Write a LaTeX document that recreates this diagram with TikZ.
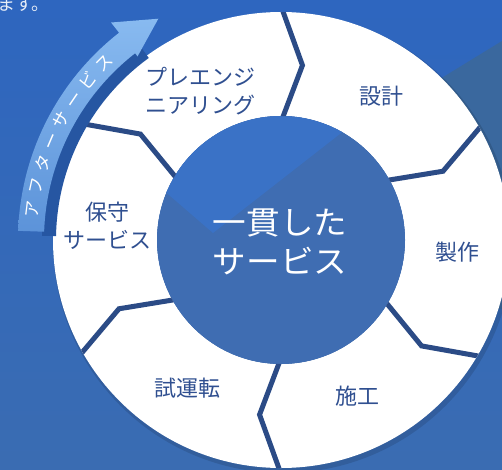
\documentclass[tikz,border=0pt]{standalone}
\usepackage{fontspec}
\newfontfamily\jpfont{Noto Sans CJK JP}
\newfontfamily\jpwide{Noto Sans CJK JP}[FakeStretch=1.05]
\usetikzlibrary{decorations.text}

\definecolor{bgtop}{HTML}{2E66BF}
\definecolor{bgbot}{HTML}{3A6CB2}
\definecolor{bgdark}{HTML}{3A689E}
\definecolor{hublight}{HTML}{3A72C6}
\definecolor{hubdark}{HTML}{3F6DB2}
\definecolor{sepblue}{HTML}{2B4B86}
\definecolor{labelblue}{HTML}{2F4F90}
\definecolor{arrowlo}{HTML}{5C93D9}
\definecolor{arrowhi}{HTML}{88BAF0}
\definecolor{bandblue}{HTML}{2656A2}

\begin{document}
\begin{tikzpicture}[
    x=1pt, y=1pt,
    stagelabel/.style={text=labelblue, align=center, inner sep=0pt,
        font=\jpfont\fontsize{22}{28}\selectfont}, % labels on the ring
    hublabel/.style={text=white, align=center, inner sep=0pt,
        font=\jpwide\fontsize{32}{39}\selectfont},  % text in the middle
    separator/.style={draw=sepblue, line width=5pt, line join=miter}
]

    % --- BACKGROUND ---
    \useasboundingbox (0,0) rectangle (502,469);
    \shade[top color=bgtop, bottom color=bgbot] (0,0) rectangle (502,469);
    \fill[bgdark] (440,390) -- (502,428) -- (502,160) -- (470,160) -- cycle;

    \coordinate (C) at (281,229); % centre of the ring

    % --- RING ---
    \fill[black, opacity=0.12] (283,226) circle[radius=230]; % soft shadow
    \fill[white, even odd rule] (C) circle[radius=228] (C) circle[radius=124];

    % inner disk, two tones
    \fill[hubdark] (C) circle[radius=124];
    \begin{scope}
        \clip (C) circle[radius=124];
        \fill[hublight] (213,236) -- (140,299) -- (140,369) -- (345,369) -- (345,339) -- cycle;
    \end{scope}

    % chevron separators between the stages
    \begin{scope}[even odd rule]
        \clip (C) circle[radius=228] (C) circle[radius=124];
        \begin{scope}[shift={(C)}]
            \foreach \a/\b in {90/83, 30/23, -30/-37, -90/-97, -150/-157, 150/143}
                \draw[separator] (\a:118) -- (\b:176) -- (\a:234);
        \end{scope}
    \end{scope}

    % --- AFTER-SERVICE ARROW ---
    \begin{scope}[shift={(C)}]
        \fill[bandblue] (179:225) arc[start angle=179, end angle=126, radius=225]
            -- (126:239) arc[start angle=126, end angle=179, radius=239] -- cycle;
        \shade[bottom color=arrowlo, top color=arrowhi]
            (178:263) arc[start angle=178, end angle=128, radius=263]
            -- (128:276) -- (119:253) -- (128:233) -- (128:237)
            arc[start angle=128, end angle=178, radius=237] -- cycle;
        \path[decorate, decoration={text along path, text align=fit to path,
                text color=white,
                text={|\jpfont\fontsize{17}{17}\selectfont|アフターサービス}}]
            (175:244) arc[start angle=175, end angle=133, radius=244];
    \end{scope}

    % --- LABELS ---
    \node[anchor=base west, inner sep=0pt, text=white!88!bgtop,
          font=\jpfont\fontsize{18}{18}\selectfont] (topline) at (-3,458) {ます。};

    \node[stagelabel] (pre)    at (200,378) {プレエンジ\\ニアリング};
    \node[stagelabel] (design) at (381,373) {設計};
    \node[stagelabel] (make)   at (457,217) {製作};
    \node[stagelabel] (build)  at (357,73)  {施工};
    \node[stagelabel] (trial)  at (187,81)  {試運転};
    \node[stagelabel] (maint)  at (107,243) {保守\\サービス};

    \node[hublabel] (hubtext) at (280,227.5) {一貫した\\サービス};

\end{tikzpicture}
\end{document}
